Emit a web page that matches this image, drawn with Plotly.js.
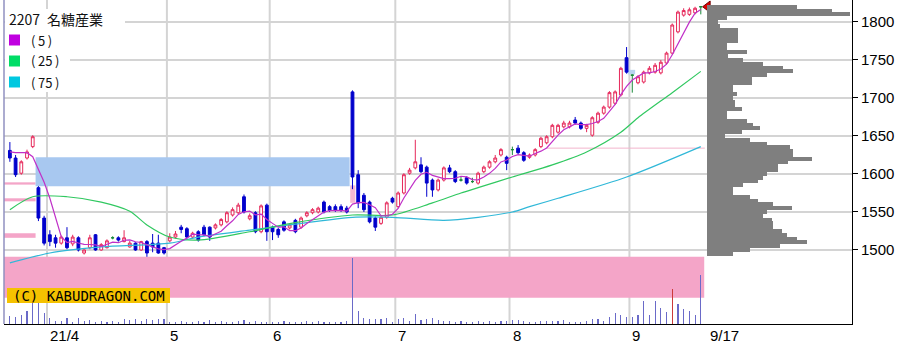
<!DOCTYPE html>
<html><head><meta charset="utf-8">
<script src="https://cdn.plot.ly/plotly-3.0.1.min.js"></script>
<style>html,body{margin:0;padding:0;background:#fff;}#chart{width:916px;height:360px;}</style>
</head><body><div id="chart"></div>
<script>
// ---- data ----
const openP  = [1631,1621,1601,1621,1636,1582,1542,1520,1516,1509,1516,1508,1516,1496,1503,1520,1500,1503,1516,1516,
1511,1504,1509,1500,1511,1509,1509,1503,1512,1517,1530,1528,1517,1524,1530,1530,1529,1533,1537,1546,
1549,1570,1541,1549,1524,1559,1530,1527,1537,1529,1539,1530,1545,1549,1550,1563,1557,1557,1557,1555,
1708,1599,1572,1563,1542,1535,1543,1568,1557,1575,1601,1608,1612,1609,1592,1579,1592,1608,1603,1592,
1595,1590,1588,1603,1609,1616,1625,1622,1632,1634,1628,1622,1625,1636,1641,1649,1655,1662,1662,1671,
1667,1660,1651,1668,1680,1688,1693,1704,1753,1730,1720,1721,1733,1734,1733,1746,1759,1787,1809,1810,
1812,1820];
const highP  = [1642,1625,1618,1632,1651,1584,1545,1526,1520,1519,1530,1520,1518,1501,1520,1521,1509,1514,1518,1518,
1526,1512,1510,1512,1513,1521,1520,1504,1522,1525,1533,1530,1524,1526,1533,1531,1535,1542,1551,1556,
1562,1573,1548,1551,1560,1561,1532,1529,1539,1535,1541,1544,1551,1555,1557,1565,1559,1560,1560,1558,
1710,1605,1575,1565,1544,1545,1564,1570,1577,1601,1608,1645,1622,1611,1594,1594,1610,1612,1605,1597,
1597,1595,1603,1611,1618,1625,1634,1624,1636,1638,1630,1627,1634,1649,1651,1666,1666,1670,1670,1675,
1669,1666,1676,1682,1690,1709,1710,1741,1767,1731,1730,1736,1742,1746,1750,1761,1798,1815,1818,1819,
1820,1821];
const lowP   = [1616,1596,1599,1619,1634,1538,1506,1505,1503,1507,1501,1505,1498,1494,1501,1499,1499,1502,1514,1511,
1510,1503,1499,1499,1491,1497,1495,1494,1510,1515,1522,1515,1515,1511,1518,1512,1527,1531,1535,1544,
1547,1548,1539,1522,1522,1512,1513,1516,1524,1527,1522,1528,1543,1547,1548,1548,1550,1550,1550,1548,
1580,1555,1550,1535,1525,1533,1541,1561,1555,1573,1599,1606,1601,1570,1570,1577,1590,1601,1588,1590,
1586,1588,1586,1601,1607,1614,1623,1605,1625,1626,1616,1620,1623,1634,1639,1647,1653,1660,1660,1665,
1658,1655,1649,1666,1678,1686,1691,1702,1732,1707,1718,1719,1731,1732,1731,1744,1757,1785,1807,1808,
1810,1810];
const closeP = [1621,1599,1616,1629,1649,1542,1509,1511,1509,1517,1503,1517,1500,1500,1516,1500,1507,1512,1516,1513,
1516,1509,1500,1511,1496,1504,1496,1496,1517,1521,1527,1517,1522,1513,1520,1517,1533,1540,1549,1553,
1559,1550,1545,1524,1558,1524,1524,1520,1526,1533,1524,1542,1549,1553,1555,1550,1552,1552,1552,1550,
1596,1562,1553,1537,1530,1543,1562,1563,1575,1599,1605,1616,1603,1588,1579,1592,1608,1603,1590,1592,
1588,1590,1601,1609,1616,1621,1632,1614,1632,1628,1618,1625,1632,1647,1649,1664,1664,1667,1667,1667,
1660,1664,1674,1680,1688,1707,1708,1739,1734,1730,1728,1734,1739,1743,1747,1759,1796,1813,1815,1816,
1818,1820];
const volume = [8,7,9,13,21,21,11,6,3,3,6,2,6,3,4,2,3,2,3,2,
5,4,5,3,5,4,5,5,2,2,3,2,2,3,2,4,2,3,2,2,
3,4,2,3,2,2,2,2,3,2,2,2,3,2,3,2,2,2,2,3,
66,13,6,5,5,5,6,2,5,6,3,10,4,5,6,4,3,3,2,3,
2,2,3,2,3,2,3,3,4,4,3,2,2,3,3,3,3,4,2,2,
2,3,5,5,3,7,11,9,7,7,9,23,9,23,16,12,35,20,15,13,
9,49];
const redVolumeIdx = [116];
const ma5Lead = [1629,1628,1628,1628];
const ma25Idx = [0,4,10,16,21,24,28,33,42,50,60,67,74,79,82,88,95,101,107,110,116,121];
const ma25Val = [1553,1570,1570,1563,1551,1533,1517,1513,1524,1536,1546,1546,1562,1575,1582,1596,1612,1629,1655,1674,1707,1735];
const ma75Idx = [0,7,16,28,33,42,46,60,67,76,82,88,91,96,108,121];
const ma75Val = [1483,1496,1504,1509,1517,1526,1530,1543,1543,1539,1543,1550,1557,1568,1596,1636];
const profilePrice = [1820,1815,1810,1805,1800,1795,1790,1785,1780,1775,1770,1765,1760,1755,1750,1745,1740,1735,1730,1725,
1720,1715,1710,1705,1700,1695,1690,1685,1680,1675,1670,1665,1660,1655,1650,1645,1640,1635,1630,1625,
1620,1615,1610,1605,1600,1595,1590,1585,1580,1575,1570,1565,1560,1555,1550,1545,1540,1535,1530,1525,
1520,1515,1510,1505,1500,1495];
const profileVol = [90,125,143,20,11,13,31,31,31,31,20,20,40,21,36,56,76,86,60,45,
45,26,26,30,26,28,28,35,20,20,40,46,53,35,18,43,60,83,86,86,
105,81,71,71,60,56,51,36,26,26,43,51,66,85,60,56,65,66,66,75,
80,90,100,73,43,26];
const monthStartIdx = [7,28,46,68,88,109];
const monthLabels = ['21/4','5','6','7','8','9'];
const lastLabel = '9/17';
const priceTicks = [1500,1550,1600,1650,1700,1750,1800];
const chartTitle = '2207\u2002名糖産業';
const maLabels = ['(\u20095\u2009)','(\u200925\u2009)','(\u200975\u2009)'];
const copyright = '(C) KABUDRAGON.COM';

// ---- styling / geometry ----
const W=916,H=360,ML=4,MR=64,MT=0,MB=36;
const PW=W-ML-MR, PH=H-MT-MB;
const xRange=[-1.03,147.48], yRange=[1402.6,1828.9];
const px2x = p => (p-ML)/PW;
const py2y = p => 1-(p-MT)/PH;
const cUp='#e6285a', cDown='#0000cc', cDoji='#1a8a3a';
const cMA=['#c030c8','#30c860','#30b8d8'];
const cLeg=['#c000e0','#00dd66','#00c8e0'];
const pink='#f4a5c8', lblue='#a8c8f0', grid='#d4d4d4';

const n = closeP.length;
const idx = Array.from({length:n},(_,i)=>i);
const ma5 = idx.map(i => i<4 ? ma5Lead[i] : (closeP[i]+closeP[i-1]+closeP[i-2]+closeP[i-3]+closeP[i-4])/5);
const isDoji = idx.map(i => openP[i]===closeP[i]);
const pick = (arr, want) => idx.filter(i=>isDoji[i]===want).map(i=>arr[i]);
const idxN = idx.filter(i=>!isDoji[i]), idxD = idx.filter(i=>isDoji[i]);

const traces = [
  {type:'scatter',mode:'lines',x:ma75Idx,y:ma75Val,line:{color:cMA[2],width:1.2,shape:'spline',smoothing:0.8},hoverinfo:'skip'},
  {type:'scatter',mode:'lines',x:ma25Idx,y:ma25Val,line:{color:cMA[1],width:1.2,shape:'spline',smoothing:0.8},hoverinfo:'skip'},
  {type:'scatter',mode:'lines',x:idx,y:ma5,line:{color:cMA[0],width:1.2},hoverinfo:'skip'},
  {type:'candlestick',x:idxN,open:pick(openP,false),high:pick(highP,false),low:pick(lowP,false),close:pick(closeP,false),
   increasing:{line:{color:cUp,width:1},fillcolor:'#ffffff'},
   decreasing:{line:{color:cDown,width:1},fillcolor:cDown},whiskerwidth:0,hoverinfo:'skip'},
  {type:'candlestick',x:idxD,open:pick(openP,true),high:pick(highP,true),low:pick(lowP,true),close:pick(closeP,true),
   increasing:{line:{color:cDoji,width:1},fillcolor:cDoji},
   decreasing:{line:{color:cDoji,width:1},fillcolor:cDoji},whiskerwidth:0,hoverinfo:'skip'},
  {type:'bar',x:idx,y:volume,yaxis:'y2',width:0.2,
   marker:{color:idx.map(i=>redVolumeIdx.includes(i)?'#cc3a3a':'#6a6ac8'),line:{width:0}},hoverinfo:'skip'},
  {type:'bar',orientation:'h',y:profilePrice,x:profileVol,xaxis:'x2',yaxis:'y',width:5,
   marker:{color:'#7f7f7f',line:{width:0}},hoverinfo:'skip'},
  {type:'scatter',mode:'markers',x:[n-1+1.2],y:[closeP[n-1]],
   marker:{symbol:'triangle-left',size:10,color:'#e00000',line:{color:'#700000',width:1}},hoverinfo:'skip'}
];

const shapes = [];
const rect=(x0,x1,y0,y1,color)=>({type:'rect',xref:'x',yref:'y',x0,x1,y0,y1,fillcolor:color,line:{width:0},layer:'below'});
shapes.push(rect(xRange[0],4.5,1586,1589,pink));
shapes.push(rect(xRange[0],4.5,1564,1568,pink));
shapes.push(rect(xRange[0],4.5,1516,1522,pink));
shapes.push(rect(4.5,59.5,1584,1622,lblue));
shapes.push(rect(xRange[0],121.6,1437,1491,pink));
shapes.push(rect(59.6,60.5,1562,1585,'#f6b8d2'));
shapes.push(rect(108.2,109.5,1731,1737,'#b8d4f0'));
shapes.push({type:'line',xref:'x',yref:'y',x0:94,x1:121.7,y0:1634,y1:1634,line:{color:'#f2b4cc',width:1},layer:'below'});
monthStartIdx.forEach(m=>shapes.push({type:'line',xref:'x',yref:'paper',x0:m-0.5,x1:m-0.5,y0:0,y1:1,line:{color:grid,width:2},layer:'below'}));
priceTicks.forEach(p=>shapes.push({type:'line',xref:'paper',yref:'y',x0:0,x1:1,y0:p,y1:p,line:{color:grid,width:2},layer:'below'}));
shapes.push({type:'rect',xref:'paper',yref:'paper',x0:px2x(5),x1:px2x(125),y0:py2y(29),y1:py2y(9),fillcolor:'#fff',line:{width:0},layer:'below'});
shapes.push({type:'rect',xref:'paper',yref:'paper',x0:px2x(5),x1:px2x(70),y0:py2y(92),y1:py2y(29),fillcolor:'#fff',line:{width:0},layer:'below'});
shapes.push({type:'line',xref:'paper',yref:'paper',x0:0,x1:0,y0:0,y1:1,line:{color:'#9090c0',width:1.5}});
[40,61,82].forEach((cy,k)=>shapes.push({type:'rect',xref:'paper',yref:'paper',x0:px2x(9),x1:px2x(20),y0:py2y(cy+5.5),y1:py2y(cy-5.5),fillcolor:cLeg[k],line:{width:0}}));
shapes.push({type:'rect',xref:'paper',yref:'paper',x0:px2x(7),x1:px2x(170),y0:py2y(303),y1:py2y(288),fillcolor:'#f5c200',line:{width:0}});

const annotations = [];
const tickFont={family:'Liberation Sans, Arial, sans-serif',size:15,color:'#000'};
monthStartIdx.forEach((m,k)=>annotations.push({xref:'x',yref:'paper',x:m-0.5,y:0,xanchor:'left',yanchor:'top',xshift:1,yshift:-1,text:monthLabels[k],showarrow:false,font:tickFont}));
annotations.push({xref:'x',yref:'paper',x:n-0.5,y:0,xanchor:'left',yanchor:'top',xshift:4,yshift:-1,text:lastLabel,showarrow:false,font:tickFont});
annotations.push({xref:'paper',yref:'paper',x:px2x(7),y:py2y(19),xanchor:'left',yanchor:'middle',text:chartTitle,showarrow:false,font:{family:'Noto Sans CJK JP, sans-serif',size:14,color:'#111'}});
[40,61,82].forEach((cy,k)=>annotations.push({xref:'paper',yref:'paper',x:px2x(29),y:py2y(cy),xanchor:'left',yanchor:'middle',text:maLabels[k],showarrow:false,font:{family:'Noto Sans CJK JP, sans-serif',size:13,color:'#111'}}));
annotations.push({xref:'paper',yref:'paper',x:px2x(88.5),y:py2y(296),xanchor:'center',yanchor:'middle',text:copyright,showarrow:false,font:{family:'DejaVu Sans Mono, monospace',size:14,color:'#000'}});

const layout = {
  width:W,height:H,margin:{l:ML,r:MR,t:MT,b:MB,pad:0},
  paper_bgcolor:'#fff',plot_bgcolor:'rgba(0,0,0,0)',showlegend:false,hovermode:false,
  xaxis:{range:xRange,showgrid:false,zeroline:false,showticklabels:false,ticks:'',showline:true,linecolor:'#000',linewidth:1,rangeslider:{visible:false},fixedrange:true},
  yaxis:{range:yRange,side:'right',tickvals:priceTicks,ticks:'outside',ticklen:5,tickcolor:'#000',showgrid:false,zeroline:false,showline:true,linecolor:'#000',linewidth:1,tickfont:tickFont,fixedrange:true},
  yaxis2:{domain:[0,0.3],range:[0,0.3*PH],anchor:'x',visible:false,fixedrange:true},
  xaxis2:{domain:[px2x(707),1],range:[0,PW*(1-px2x(707))],anchor:'y',visible:false,fixedrange:true},
  bargap:0,shapes,annotations
};
Plotly.newPlot('chart',traces,layout,{staticPlot:true,displayModeBar:false});
</script></body></html>
